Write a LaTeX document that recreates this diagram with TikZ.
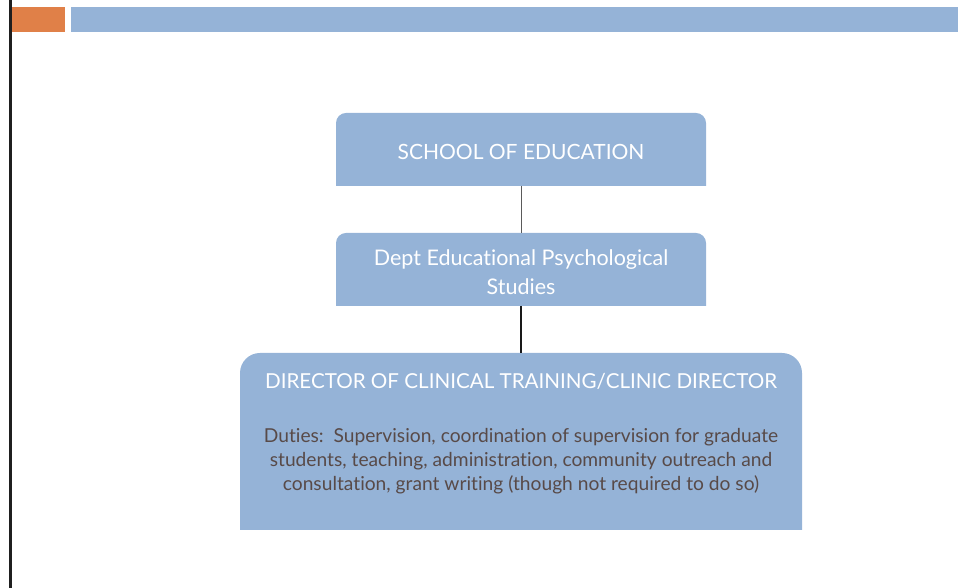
\documentclass[tikz,border=0pt]{standalone}
\usepackage{fontspec}
\setmainfont{Lato}[Ligatures=NoCommon]
\definecolor{boxblue}{RGB}{149,179,215}
\definecolor{accorange}{RGB}{224,128,72}
\definecolor{dutytext}{RGB}{88,74,72}
\definecolor{linegray}{RGB}{90,90,90}
\begin{document}
\begin{tikzpicture}[x=1pt,y=1pt,
  orgbox/.style={inner sep=0pt, outer sep=0pt, align=center, text=white},
  link/.style={line width=1pt, draw=linegray},
  strongl/.style={line width=2pt, draw=black!90}]
\useasboundingbox (0,0) rectangle (958,588);
% header bars
\fill[black!88] (9,0) rectangle (12,588);
\fill[accorange] (12,556) rectangle (65,581);
\fill[boxblue] (71,556) rectangle (958,581);
% boxes
\node[orgbox, minimum width=370pt, minimum height=73pt] (school) at (521,438.5) {};
\node[orgbox, minimum width=370pt, minimum height=73pt] (dept) at (521,318.5) {};
\node[orgbox, minimum width=562pt, minimum height=177pt] (dir) at (521,146.5) {};
\foreach \n/\r in {school/10, dept/10, dir/20}{
  \fill[boxblue] (\n.south west) -- ([yshift=-\r pt]\n.north west)
    arc[start angle=180, end angle=90, radius=\r pt]
    -- ([xshift=-\r pt]\n.north east)
    arc[start angle=90, end angle=0, radius=\r pt]
    -- (\n.south east) -- cycle;
}
% texts
\node[text=white, font=\fontsize{21}{24}\selectfont, anchor=base] (t1) at (521,428) {SCHOOL OF EDUCATION};
\node[text=white, font=\fontsize{21.5}{29}\selectfont, align=center, anchor=north] (t2) at (521,342) {Dept Educational Psychological\\Studies};
\node[text=white, font=\fontsize{20.6}{24}\selectfont, anchor=base] (t3) at (521,199) {DIRECTOR OF CLINICAL TRAINING/CLINIC DIRECTOR};
\node[text=dutytext, font=\fontsize{19.2}{24}\selectfont, align=center, anchor=north] (t4) at (521,163) {Duties:\ \ Supervision, coordination of supervision for graduate\\students, teaching, administration, community outreach and\\consultation, grant writing (though not required to do so)};
% connectors
\draw[link] (school.south) -- (dept.north);
\draw[strongl] (dept.south) -- (dir.north);
\end{tikzpicture}
\end{document}
